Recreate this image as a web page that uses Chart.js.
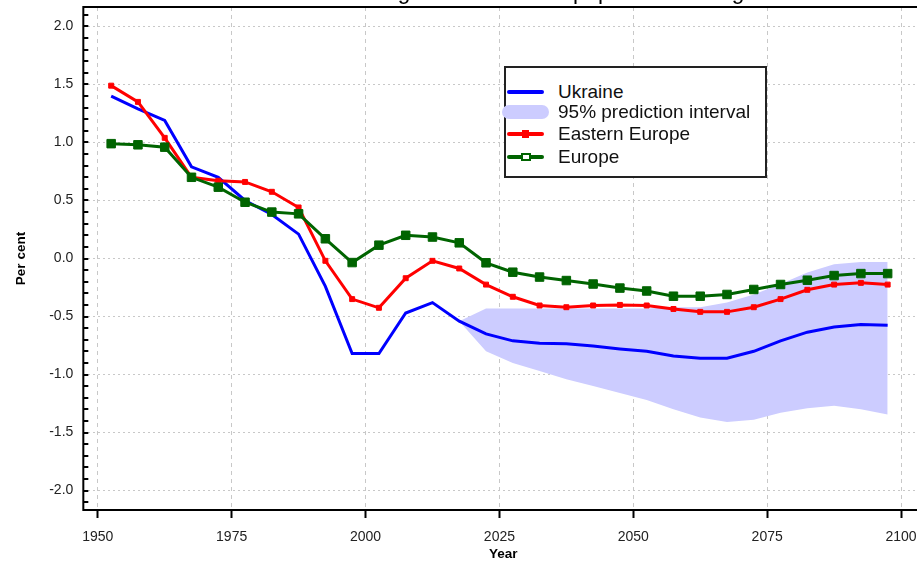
<!DOCTYPE html>
<html>
<head>
<meta charset="utf-8">
<script src="https://cdn.jsdelivr.net/npm/chart.js@4.4.1/dist/chart.umd.min.js"></script>
<style>
  html, body { margin: 0; padding: 0; background: #fff; overflow: hidden; }
  body { width: 917px; height: 562px; position: relative; }
  #wrap { position: absolute; left: 0; top: -31px; width: 930px; height: 593px; }
  #legend { position: absolute; left: 504px; top: 66px; width: 259px; height: 108px;
            border: 2px solid #222; background: #fff;
            font: 19px "Liberation Sans", Arial, sans-serif; color: #111; }
  .row { position: absolute; left: 0; width: 100%; height: 22px; line-height: 22px; }
  .txt { position: absolute; left: 52px; top: 0; white-space: nowrap; }
  .sw { position: absolute; }
</style>
</head>
<body>
<div id="wrap"><canvas id="grafico" width="930" height="593"></canvas></div>

<div id="legend">
  <div class="row" style="top:13px">
    <div class="sw" style="left:1px;top:9px;width:37px;height:4px;border-radius:2px;background:#0000ff"></div>
    <span class="txt">Ukraine</span>
  </div>
  <div class="row" style="top:33px">
    <div class="sw" style="left:-4px;top:4px;width:47px;height:14px;border-radius:7px;background:#ccccff"></div>
    <span class="txt">95% prediction interval</span>
  </div>
  <div class="row" style="top:55px">
    <div class="sw" style="left:1px;top:9px;width:37px;height:4px;border-radius:2px;background:#ff0000"></div>
    <div class="sw" style="left:16px;top:7px;width:7px;height:8px;background:#ff0000"></div>
    <span class="txt">Eastern Europe</span>
  </div>
  <div class="row" style="top:78px">
    <div class="sw" style="left:1px;top:9px;width:37px;height:4px;border-radius:2px;background:#006400"></div>
    <div class="sw" style="left:15px;top:7px;width:6px;height:4px;border:2px solid #006400;background:#fff"></div>
    <span class="txt">Europe</span>
  </div>
</div>

<script>
// anos = meio de cada periodo de 5 anos (1950-1955 -> 1952.5)
const anos = [1952.5, 1957.5, 1962.5, 1967.5, 1972.5, 1977.5, 1982.5, 1987.5, 1992.5, 1997.5,
              2002.5, 2007.5, 2012.5, 2017.5, 2022.5, 2027.5, 2032.5, 2037.5, 2042.5, 2047.5,
              2052.5, 2057.5, 2062.5, 2067.5, 2072.5, 2077.5, 2082.5, 2087.5, 2092.5, 2097.5];

const ukraine = [1.40, 1.29, 1.19, 0.79, 0.70, 0.50, 0.38, 0.21, -0.24, -0.82,
                 -0.82, -0.47, -0.38, -0.54, -0.65, -0.71, -0.73, -0.735, -0.755, -0.78,
                 -0.80, -0.84, -0.86, -0.86, -0.80, -0.71, -0.635, -0.59, -0.57, -0.575];

const easternEurope = [1.49, 1.35, 1.04, 0.70, 0.67, 0.66, 0.575, 0.44, -0.02, -0.35,
                       -0.425, -0.17, -0.02, -0.086, -0.225, -0.33, -0.405, -0.42, -0.405, -0.40,
                       -0.405, -0.435, -0.46, -0.46, -0.42, -0.35, -0.27, -0.225, -0.21, -0.225];

const europe = [0.99, 0.98, 0.96, 0.70, 0.615, 0.485, 0.40, 0.385, 0.17, -0.035,
                0.115, 0.20, 0.185, 0.135, -0.037, -0.118, -0.16, -0.19, -0.22, -0.255,
                -0.28, -0.325, -0.325, -0.31, -0.267, -0.224, -0.187, -0.147, -0.13, -0.13];

// intervalo de previsao 95% (Ukraine)
const anosIntervalo = [2017.5, 2022.5, 2027.5, 2032.5, 2037.5, 2042.5, 2047.5, 2052.5, 2057.5,
                       2062.5, 2067.5, 2072.5, 2077.5, 2082.5, 2087.5, 2092.5, 2097.5];
const limiteSuperior = [-0.54, -0.43, -0.43, -0.43, -0.43, -0.43, -0.43, -0.43, -0.42,
                        -0.42, -0.38, -0.31, -0.22, -0.12, -0.05, -0.03, -0.03];
const limiteInferior = [-0.54, -0.80, -0.90, -0.97, -1.04, -1.10, -1.16, -1.22, -1.30,
                        -1.37, -1.41, -1.39, -1.33, -1.29, -1.27, -1.30, -1.345];

const ticksX = [1950, 1975, 2000, 2025, 2050, 2075, 2100];
const rotulosY = [-2.0, -1.5, -1.0, -0.5, 0.0, 0.5, 1.0, 1.5, 2.0];

function pontos(xs, ys) {
  return xs.map((x, i) => ({ x: x, y: ys[i] }));
}

function ehRotulo(v) {
  return rotulosY.some(r => Math.abs(r - v) < 1e-6);
}

// moldura da area do grafico + pequenos ticks internos no eixo y
const moldura = {
  id: 'moldura',
  afterDatasetsDraw(chart) {
    const { ctx, chartArea: a, scales: { y } } = chart;
    ctx.save();
    ctx.strokeStyle = '#000';
    ctx.lineWidth = 2;
    y.ticks.forEach(t => {
      const py = Math.round(y.getPixelForValue(t.value));
      ctx.beginPath();
      ctx.moveTo(a.left, py);
      ctx.lineTo(a.left + 5, py);
      ctx.stroke();
    });
    ctx.strokeRect(a.left, a.top, a.right - a.left, a.bottom - a.top);
    ctx.restore();
  }
};

Chart.defaults.font.family = '"Liberation Sans", Arial, sans-serif';
Chart.defaults.color = '#222';

const ctx = document.getElementById('grafico').getContext('2d');
new Chart(ctx, {
  type: 'line',
  data: {
    datasets: [
      {
        label: 'Europe',
        data: pontos(anos, europe),
        borderColor: '#006400',
        backgroundColor: '#006400',
        borderWidth: 3,
        pointStyle: 'rect',
        pointRadius: 6,
        pointBorderWidth: 1,
        fill: false
      },
      {
        label: 'Eastern Europe',
        data: pontos(anos, easternEurope),
        borderColor: '#ff0000',
        backgroundColor: '#ff0000',
        borderWidth: 3,
        pointStyle: 'rect',
        pointRadius: 3.5,
        pointBorderWidth: 1,
        fill: false
      },
      {
        label: 'Ukraine',
        data: pontos(anos, ukraine),
        borderColor: '#0000ff',
        borderWidth: 3,
        pointRadius: 0,
        fill: false
      },
      {
        label: '95% superior',
        data: pontos(anosIntervalo, limiteSuperior),
        borderColor: 'transparent',
        backgroundColor: '#ccccff',
        pointRadius: 0,
        fill: '+1'
      },
      {
        label: '95% inferior',
        data: pontos(anosIntervalo, limiteInferior),
        borderColor: 'transparent',
        pointRadius: 0,
        fill: false
      }
    ]
  },
  options: {
    responsive: false,
    animation: false,
    layout: { padding: { left: 0, right: 5, top: 0, bottom: 0 } },
    plugins: {
      legend: { display: false },
      tooltip: { enabled: false },
      title: {
        display: true,
        text: 'Ukraine: Average annual rate of population change',
        fullSize: false,
        color: '#000',
        font: { size: 22.5, weight: 'normal' },
        padding: { top: 10, bottom: 1 }
      }
    },
    scales: {
      x: {
        type: 'linear',
        min: 1947.3,
        max: 2104.1,
        afterBuildTicks: axis => { axis.ticks = ticksX.map(v => ({ value: v })); },
        ticks: { font: { size: 14 }, padding: 11, autoSkip: false, maxRotation: 0, callback: v => String(v) },
        grid: { color: '#c8c8c8', lineWidth: 1, drawTicks: true, tickLength: 8, tickColor: '#000', tickWidth: 2 },
        border: { display: false, dash: [4, 4] },
        title: { display: true, text: 'Year', color: '#000', font: { size: 13.5, weight: 'bold' }, padding: { top: -11, bottom: 0 } }
      },
      y: {
        min: -2.168,
        max: 2.168,
        afterBuildTicks: axis => {
          const t = [];
          for (let i = -21; i <= 21; i++) t.push({ value: i / 10 });
          axis.ticks = t;
        },
        ticks: {
          font: { size: 14 },
          padding: 10,
          autoSkip: false,
          callback: v => ehRotulo(v) ? v.toFixed(1) : ''
        },
        grid: {
          color: c => ehRotulo(c.tick.value) ? '#c8c8c8' : 'rgba(0,0,0,0)',
          lineWidth: 1,
          drawTicks: false
        },
        border: { display: false, dash: [2, 3] },
        title: { display: true, text: 'Per cent', color: '#000', font: { size: 13.5, weight: 'bold' }, padding: { top: 13, bottom: 10 } }
      }
    }
  },
  plugins: [moldura]
});
</script>
</body>
</html>
